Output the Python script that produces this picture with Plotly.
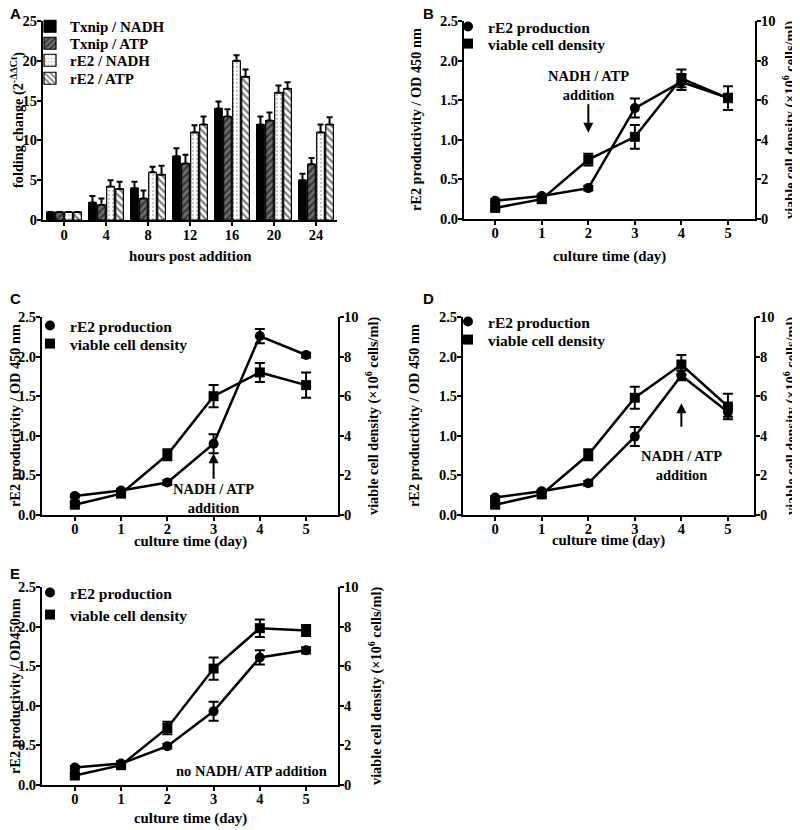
import plotly.graph_objects as go

# ---------------- Panel A data ----------------
hours = ["0", "4", "8", "12", "16", "20", "24"]
txnip_nadh = [1, 2.2, 4.0, 8.0, 14.0, 12.0, 5.0]
txnip_nadh_err = [0, 0.8, 0.8, 1.0, 0.9, 1.0, 0.8]
txnip_atp = [1, 1.9, 2.7, 7.1, 13.0, 12.5, 7.0]
txnip_atp_err = [0, 0.8, 1.0, 1.1, 0.9, 1.0, 0.8]
re2_nadh = [1, 4.2, 6.0, 11.0, 20.0, 16.0, 11.0]
re2_nadh_err = [0, 0.8, 0.7, 0.9, 0.7, 0.9, 1.0]
re2_atp = [1, 3.9, 5.7, 12.0, 18.0, 16.5, 12.0]
re2_atp_err = [0, 0.9, 1.1, 1.0, 0.9, 0.8, 0.9]

# ---------------- Line panels data ----------------
days = [0, 1, 2, 3, 4, 5]

b_re2 = [0.23, 0.29, 0.39, 1.40, 1.73, 1.53]
b_re2_err = [0.02, 0.02, 0.03, 0.12, 0.10, 0.05]
b_vcd = [0.56, 1.0, 3.0, 4.15, 7.1, 6.1]
b_vcd_err = [0.1, 0.1, 0.3, 0.6, 0.45, 0.6]

c_re2 = [0.24, 0.31, 0.41, 0.90, 2.26, 2.02]
c_re2_err = [0.02, 0.02, 0.03, 0.12, 0.09, 0.03]
c_vcd = [0.52, 1.08, 3.04, 6.0, 7.2, 6.56]
c_vcd_err = [0.1, 0.1, 0.28, 0.56, 0.48, 0.64]

d_re2 = [0.22, 0.30, 0.40, 0.99, 1.76, 1.30]
d_re2_err = [0.02, 0.02, 0.03, 0.12, 0.06, 0.06]
d_vcd = [0.52, 1.04, 3.04, 5.92, 7.6, 5.48]
d_vcd_err = [0.1, 0.1, 0.28, 0.56, 0.48, 0.64]

e_re2 = [0.22, 0.27, 0.49, 0.93, 1.61, 1.70]
e_re2_err = [0.02, 0.02, 0.03, 0.12, 0.09, 0.04]
e_vcd = [0.48, 1.0, 2.88, 5.88, 7.92, 7.8]
e_vcd_err = [0.1, 0.1, 0.32, 0.56, 0.44, 0.28]

y_left_titles = ["rE2 productivity / OD 450 nm", "rE2 productivity / OD 450 nm",
                 "rE2 productivity / OD 450 nm", "rE2 productivity / OD450nm"]
y_right_title = "viable cell density (×10<sup>6</sup> cells/ml)"
x_line_title = "culture time (day)"

# the page body has an 8px margin, so the figure is drawn 8px in from the window edge
OFF = 8
W, H = 800 - OFF, 830 - OFF
SERIF = "Liberation Serif"
SANS = "Liberation Sans"


def px_(x):
    return (x - OFF) / W


def py_(y):
    return 1 - (y - OFF) / H


def fx(a, b):
    return [px_(a), px_(b)]


def fy(top, bottom):
    return [py_(bottom), py_(top)]


fig = go.Figure()

legend_defs = {}
leg_idx = [1]
LEG_ROW_OFF = 18  # legend top to first-row centre, px


def new_legend(page_x, row_y, size):
    i = leg_idx[0]
    leg_idx[0] += 1
    key = "legend" if i == 1 else "legend%d" % i
    legend_defs[key] = dict(bgcolor="rgba(0,0,0,0)", tracegroupgap=0, itemwidth=30,
                            xanchor="left", yanchor="top", itemclick=False,
                            font=dict(family=SERIF, size=size, color="black", weight="bold"),
                            x=px_(page_x), y=py_(row_y - LEG_ROW_OFF))
    return key


# ---------------- Panel A bars ----------------
bar_specs = [
    ("Txnip / NADH", txnip_nadh, txnip_nadh_err, dict(color="black")),
    ("Txnip / ATP", txnip_atp, txnip_atp_err,
     dict(color="#6e6e6e", pattern=dict(shape="/", fgcolor="black", bgcolor="#6e6e6e", size=5, solidity=0.45))),
    ("rE2 / NADH", re2_nadh, re2_nadh_err,
     dict(color="white", pattern=dict(shape=".", fgcolor="#888888", bgcolor="white", size=4, solidity=0.25))),
    ("rE2 / ATP", re2_atp, re2_atp_err,
     dict(color="white", pattern=dict(shape="\\", fgcolor="black", bgcolor="white", size=5, solidity=0.45))),
]
legA_rows = [28, 45, 62, 80]
for (name, vals, errs, mk), row in zip(bar_specs, legA_rows):
    mk = dict(mk)
    mk["line"] = dict(color="black", width=1.2)
    fig.add_trace(go.Bar(
        x=hours, y=vals, name=name, marker=mk,
        error_y=dict(type="data", array=errs, arrayminus=[0] * len(errs), symmetric=False,
                     color="black", thickness=2, width=3),
        xaxis="x", yaxis="y", legend=new_legend(30, row, 15),
    ))

# ---------------- Line panels ----------------
panels = [
    ("x2", "y2", "y3", (448, [28, 45]), b_re2, b_re2_err, b_vcd, b_vcd_err),
    ("x3", "y4", "y5", (30, [327, 345]), c_re2, c_re2_err, c_vcd, c_vcd_err),
    ("x4", "y6", "y7", (448, [323, 341]), d_re2, d_re2_err, d_vcd, d_vcd_err),
    ("x5", "y8", "y9", (30, [594, 616]), e_re2, e_re2_err, e_vcd, e_vcd_err),
]
for xa, yl, yr, (lx, rows), r, re, v, ve in panels:
    fig.add_trace(go.Scatter(
        x=days, y=v, mode="lines+markers", xaxis=xa, yaxis=yr, showlegend=False,
        line=dict(color="black", width=2.5),
        marker=dict(symbol="square", size=10, color="black"),
        error_y=dict(type="data", array=ve, color="black", thickness=2, width=5),
    ))
    fig.add_trace(go.Scatter(
        x=days, y=r, mode="lines+markers", xaxis=xa, yaxis=yl, showlegend=False,
        line=dict(color="black", width=2.5),
        marker=dict(symbol="circle", size=10, color="black"),
        error_y=dict(type="data", array=re, color="black", thickness=2, width=5),
    ))
    fig.add_trace(go.Scatter(x=[None], y=[None], mode="markers", name="rE2 production",
                             marker=dict(symbol="circle", size=10, color="black"),
                             xaxis=xa, yaxis=yl, legend=new_legend(lx, rows[0], 15.5)))
    fig.add_trace(go.Scatter(x=[None], y=[None], mode="markers", name="viable cell density",
                             marker=dict(symbol="square", size=10, color="black"),
                             xaxis=xa, yaxis=yl, legend=new_legend(lx, rows[1], 15.5)))

tickfont = dict(family=SERIF, size=14.5, color="black", weight="bold")
titlefont = dict(family=SERIF, size=14.8, color="black", weight="bold")
ytitlefont = dict(family=SERIF, size=14.3, color="black", weight="bold")

axis_common = dict(showline=True, linecolor="black", linewidth=2, ticks="outside",
                   tickcolor="black", tickwidth=2, ticklen=4, showgrid=False, zeroline=False,
                   tickfont=tickfont, automargin=False, ticklabelstandoff=-3)

layout = dict(
    width=W, height=H, margin=dict(l=0, r=0, t=0, b=0, autoexpand=False),
    paper_bgcolor="white", plot_bgcolor="white",
    font=dict(family=SERIF, color="black", weight="bold"),
    barmode="group", bargap=0.14, bargroupgap=0.15,
)

layout["xaxis"] = dict(axis_common, domain=fx(43, 337), anchor="y", range=[-0.5, 6.5],
                       ticklabelstandoff=-3)
layout["yaxis"] = dict(axis_common, domain=fy(21, 220), anchor="x", range=[0, 25], dtick=5)

# title annotations: (text, page x centre, page y centre, angle, font)
title_anns = [
    ("hours post addition", 190, 256, 0, titlefont),
    ("folding change (2<sup>-ΔΔCt</sup>)", 17, 120, -90, ytitlefont),
]
# domain x, domain y, x range, x-title y, left-title x, right-title x
geo = {
    "x2": ((464, 755), (21, 219), [-0.67, 5.58], 256, 416, 789),
    "x3": ((42, 338), (317, 515), [-0.71, 5.69], 541, 15, 372),
    "x4": ((463, 754), (317, 515), [-0.69, 5.56], 540, 414, 790),
    "x5": ((42, 338), (587, 785), [-0.71, 5.69], 818, 15, 375),
}
for k, (xa, yl, yr, *_) in enumerate(panels):
    (xa0, xa1), (ya0, ya1), xr, xty, lty, rty = geo[xa]
    xk = "xaxis" + xa[1:]
    ylk = "yaxis" + yl[1:]
    yrk = "yaxis" + yr[1:]
    layout[xk] = dict(axis_common, domain=fx(xa0, xa1), anchor=yl, range=xr, tickvals=days,
                      ticklabelstandoff=-4)
    layout[ylk] = dict(axis_common, domain=fy(ya0, ya1), anchor=xa, range=[0, 2.5], dtick=0.5,
                       tickformat=".1f")
    layout[yrk] = dict(axis_common, domain=fy(ya0, ya1), anchor=xa, overlaying=yl, side="right",
                       range=[0, 10], dtick=2)
    ymid = (ya0 + ya1) / 2
    title_anns.append((x_line_title, (xa0 + xa1) / 2, xty, 0, titlefont))
    title_anns.append((y_left_titles[k], lty, ymid, -90, ytitlefont))
    title_anns.append((y_right_title, rty, ymid, -90, ytitlefont))

layout.update(legend_defs)
fig.update_layout(**layout)

anns = []
for text, tx, ty, ang, fnt in title_anns:
    anns.append(dict(text=text, x=px_(tx), y=py_(ty), xref="paper", yref="paper",
                     xanchor="center", yanchor="middle", textangle=ang, showarrow=False,
                     font=fnt))

ann_font = dict(family=SERIF, size=14.5, color="black", weight="bold")
letter_font = dict(family=SANS, size=15, color="black", weight="bold")
for letter, lx, ly in [("A", 8, 14), ("B", 421, 14), ("C", 8, 298), ("D", 421, 298), ("E", 8, 573)]:
    anns.append(dict(text=letter, x=px_(lx), y=py_(ly), xref="paper", yref="paper",
                     xanchor="left", yanchor="middle", showarrow=False, font=letter_font))
arrow = dict(showarrow=True, ax=0, arrowhead=2, arrowwidth=2, arrowsize=1, arrowcolor="black", text="")
anns.append(dict(text="NADH / ATP<br>addition", x=2, y=1.68, xref="x2", yref="y2",
                 showarrow=False, font=ann_font))
anns.append(dict(arrow, x=2, y=1.09, xref="x2", yref="y2", ay=-30))
anns.append(dict(text="NADH / ATP<br>addition", x=3, y=0.21, xref="x3", yref="y4",
                 showarrow=False, font=ann_font))
anns.append(dict(arrow, x=3, y=0.78, xref="x3", yref="y4", ay=27))
anns.append(dict(text="NADH / ATP<br>addition", x=4, y=0.62, xref="x4", yref="y6",
                 showarrow=False, font=ann_font))
anns.append(dict(arrow, x=4, y=1.41, xref="x4", yref="y6", ay=25))
anns.append(dict(text="no NADH/ ATP addition", x=3.83, y=0.18, xref="x5", yref="y8",
                 showarrow=False, font=ann_font))
fig.update_layout(annotations=anns)

fig.write_html("out.html")
